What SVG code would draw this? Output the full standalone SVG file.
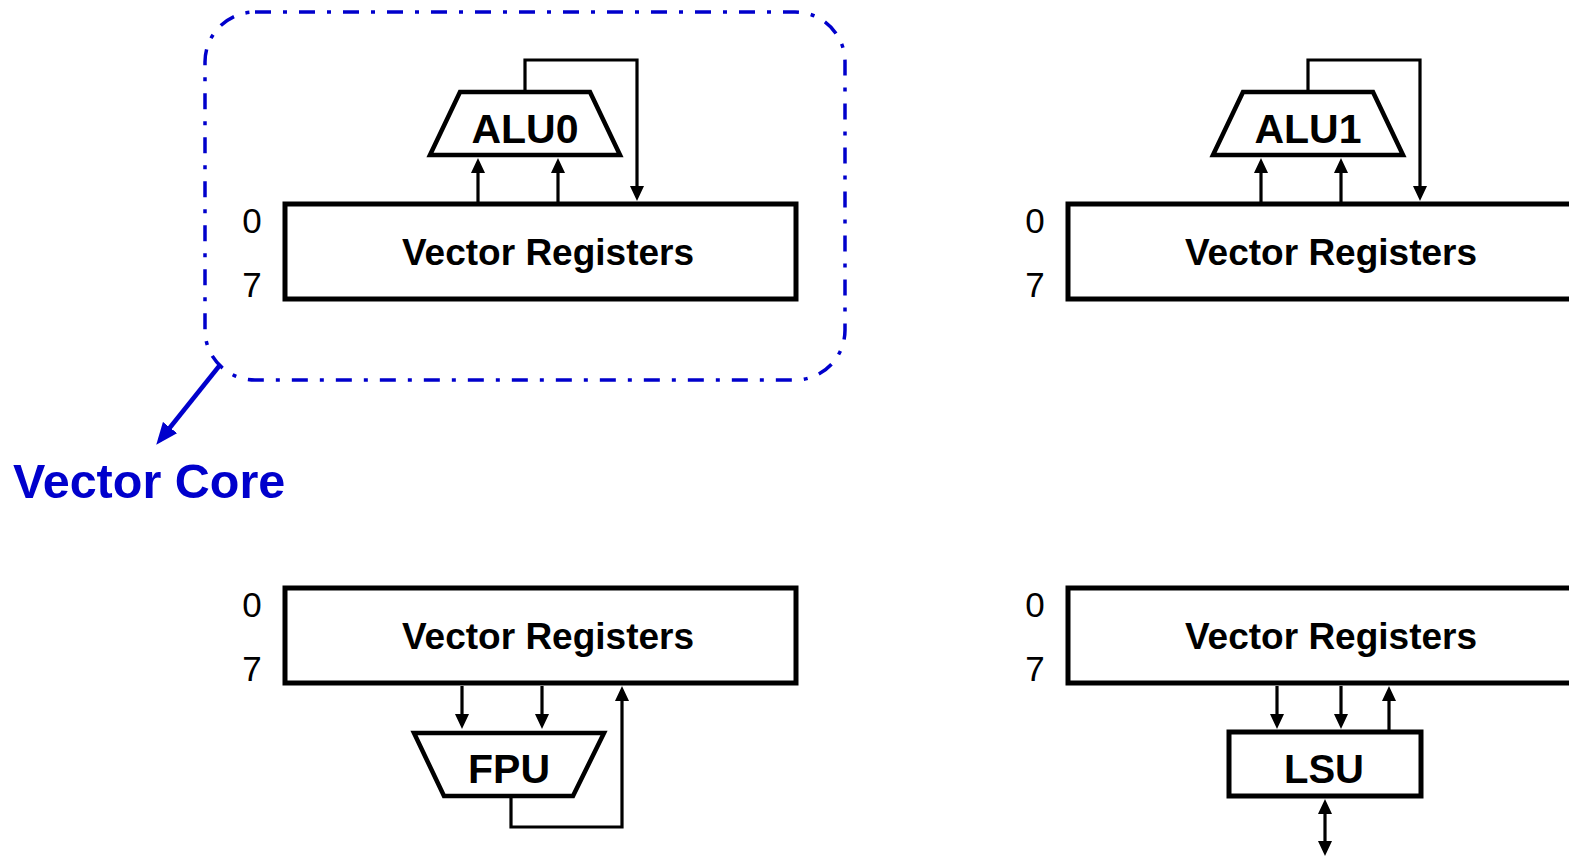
<svg xmlns="http://www.w3.org/2000/svg" width="1569" height="858" viewBox="0 0 1569 858">
<style>
.box{fill:#fff;stroke:#000;stroke-width:5}
.unit{fill:#fff;stroke:#000;stroke-width:4.5;stroke-linejoin:miter}
.wire{fill:none;stroke:#000;stroke-width:3.2}
.lbl{font-family:"Liberation Sans",Arial,sans-serif;font-weight:bold;fill:#000;text-anchor:middle}
.num{font-family:"Liberation Sans",Arial,sans-serif;font-size:35px;fill:#000;text-anchor:middle}
.core{fill:none;stroke:#0000CC;stroke-width:3.5;stroke-dasharray:16 12 4 12}
</style>
<defs>
<marker id="ah" viewBox="0 0 15 15" refX="11" refY="7.5" markerWidth="15" markerHeight="15" markerUnits="userSpaceOnUse" orient="auto-start-reverse">
<path d="M0,0.5 L15,7.5 L0,14.5 z" fill="#000"/>
</marker>
<marker id="bh" viewBox="0 0 22 18" refX="16" refY="9" markerWidth="22" markerHeight="18" markerUnits="userSpaceOnUse" orient="auto">
<path d="M0,0 L22,9 L0,18 z" fill="#0000CC"/>
</marker>
</defs>

<g id="vector-core-outline">
<rect class="core" x="205" y="12" width="640" height="368" rx="50" ry="50"/>
</g>
<g id="vector-core-label">
<text x="13" y="498" font-family="'Liberation Sans',Arial,sans-serif" font-weight="bold" font-size="48.5" fill="#0000CC">Vector Core</text>
</g>

<g id="regs-tl">
<rect class="box" x="285" y="204" width="511" height="95"/>
<text class="lbl" x="548" y="265" font-size="37">Vector Registers</text>
<text class="num" x="252" y="233">0</text>
<text class="num" x="252" y="297">7</text>
</g>
<g id="alu0">
<polygon class="unit" points="460,92 590,92 620,155 430,155"/>
<text class="lbl" x="525" y="143" font-size="41">ALU0</text>
</g>

<g id="regs-tr">
<rect class="box" x="1068" y="204" width="600" height="95"/>
<text class="lbl" x="1331" y="265" font-size="37">Vector Registers</text>
<text class="num" x="1035" y="233">0</text>
<text class="num" x="1035" y="297">7</text>
</g>
<g id="alu1">
<polygon class="unit" points="1243,92 1373,92 1403,155 1213,155"/>
<text class="lbl" x="1308" y="143" font-size="41">ALU1</text>
</g>

<g id="regs-bl">
<rect class="box" x="285" y="588" width="511" height="95"/>
<text class="lbl" x="548" y="649" font-size="37">Vector Registers</text>
<text class="num" x="252" y="617">0</text>
<text class="num" x="252" y="681">7</text>
</g>
<g id="fpu">
<polygon class="unit" points="414,733 604,733 573,796 444,796"/>
<text class="lbl" x="509" y="783" font-size="41">FPU</text>
</g>

<g id="regs-br">
<rect class="box" x="1068" y="588" width="600" height="95"/>
<text class="lbl" x="1331" y="649" font-size="37">Vector Registers</text>
<text class="num" x="1035" y="617">0</text>
<text class="num" x="1035" y="681">7</text>
</g>
<g id="lsu">
<rect class="box" x="1229" y="732" width="192" height="64"/>
<text class="lbl" x="1324" y="783" font-size="40">LSU</text>
</g>

<g id="connectors">
<line x1="220" y1="365" x2="160" y2="440" stroke="#0000CC" stroke-width="4.5" marker-end="url(#bh)"/>

<path class="wire" d="M478,202 V162" marker-end="url(#ah)"/>
<path class="wire" d="M558,202 V162" marker-end="url(#ah)"/>
<path class="wire" d="M525,90 V60 H637 V197" marker-end="url(#ah)"/>

<path class="wire" d="M1261,202 V162" marker-end="url(#ah)"/>
<path class="wire" d="M1341,202 V162" marker-end="url(#ah)"/>
<path class="wire" d="M1308,90 V60 H1420 V197" marker-end="url(#ah)"/>

<path class="wire" d="M462,686 V725" marker-end="url(#ah)"/>
<path class="wire" d="M542,686 V725" marker-end="url(#ah)"/>
<path class="wire" d="M511,798 V827 H622 V690" marker-end="url(#ah)"/>

<path class="wire" d="M1277,686 V725" marker-end="url(#ah)"/>
<path class="wire" d="M1341,686 V725" marker-end="url(#ah)"/>
<path class="wire" d="M1389,730 V690" marker-end="url(#ah)"/>
<path class="wire" d="M1325,803 V852" marker-start="url(#ah)" marker-end="url(#ah)"/>
</g>
</svg>
